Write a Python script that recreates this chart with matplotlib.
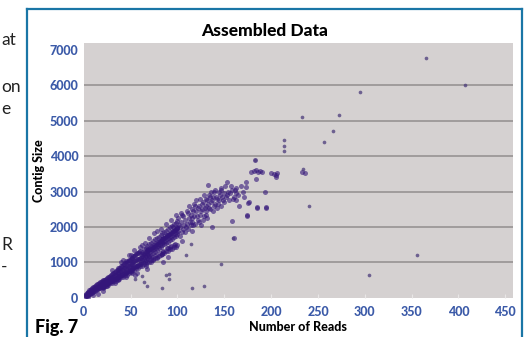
import matplotlib
matplotlib.use("Agg")
import matplotlib.pyplot as plt
from matplotlib.lines import Line2D

# main band of contigs (reads, contig size)
reads = [
    1, 1, 2, 2, 3, 3, 3, 4, 4, 4, 5, 5, 5, 6, 6, 6, 7, 7, 7, 8, 8, 8, 9, 9, 9,
    10, 10, 10, 11, 11, 11, 12, 12, 12, 13, 13, 13, 14, 14, 14, 15, 15, 15,
    16, 16, 16, 17, 17, 17, 18, 18, 18, 19, 19, 19, 20, 20, 20,
    5, 10, 20, 15,
    21, 21, 21, 22, 22, 22, 23, 23, 23, 24, 24, 24, 25, 25, 25, 26, 26, 26,
    27, 27, 27, 28, 28, 28, 29, 29, 29, 30, 30, 30, 31, 31, 31, 32, 32, 32,
    33, 33, 33, 34, 34, 34, 35, 35, 35, 36, 36, 36, 37, 37, 37, 38, 38, 38,
    39, 39, 39, 40, 40, 40, 41, 41, 41, 42, 42, 42, 43, 43, 43, 44, 44, 44,
    45, 45, 45, 46, 46, 46, 47, 47, 47, 48, 48, 48, 49, 49, 49, 50, 50, 50,
    51, 51, 51, 52, 52, 52, 53, 53, 53, 54, 54, 54, 55, 55, 55, 56, 56, 56,
    57, 57, 57, 58, 58, 58, 59, 59, 59, 60, 60, 60,
    61, 61, 62, 62, 63, 63, 64, 64, 65, 65, 66, 66, 67, 67, 68, 68, 69, 69,
    70, 70, 71, 71, 72, 72, 73, 73, 74, 74, 75, 75, 76, 76, 77, 77, 78, 78,
    79, 79, 80, 80, 81, 81, 82, 82, 83, 83, 84, 84, 85, 85, 86, 86, 87, 87,
    88, 88, 89, 89, 90, 90, 91, 91, 92, 92, 93, 93, 94, 94, 95, 95, 96, 96,
    97, 97, 98, 98, 99, 99, 100, 100,
    61, 62, 63, 64, 65, 66, 67, 68, 69, 70, 71, 72, 73, 74, 75, 76, 77, 78,
    79, 80, 81, 82, 83, 84, 85, 86, 87, 88, 89, 90, 91, 92, 93, 94, 95, 96,
    97, 98, 99, 100,
    62, 66, 70, 72, 75, 78, 82, 85, 88, 90, 93, 96, 98, 65, 68, 74, 84, 92,
    57, 54, 48, 45, 40, 36, 42, 52, 30, 25, 33,
    101, 101, 103, 103, 104, 104, 106, 106, 107, 108, 108, 110, 110, 111,
    112, 112, 114, 114, 115, 116, 116, 118, 118, 119, 120, 120, 122, 122,
    124, 124, 125, 126, 126, 128, 128, 130, 130, 132, 132, 133, 134, 134,
    136, 136, 137, 138, 138, 140, 140, 142, 142, 144, 144, 146, 146, 148,
    150, 150, 153, 153, 155, 158, 158, 160, 160, 163, 163, 163, 166, 170,
    173, 173, 174, 174, 175, 176, 178, 182, 184, 184, 185, 185, 186, 188,
    190, 194, 195, 195, 200, 203, 206, 183, 205, 205, 233, 236,
    102, 105, 105, 109, 111, 113, 115, 117, 117, 119, 121, 123, 123, 125,
    127, 127, 129, 131, 131, 133, 135, 135, 137, 139, 139, 141, 143, 145,
    147, 149, 151, 152, 154, 156, 157, 159, 161, 165, 168, 171,
    85, 90, 95, 105, 78, 70, 60, 50, 55, 45,
    20, 22, 24, 26, 28, 30, 32, 34, 36, 38, 40, 42, 44, 46, 48, 50, 52, 54,
    56, 58, 60, 62, 64, 66, 68, 70, 72, 74, 76, 78, 80, 82, 84, 86, 88, 90,
    92, 94, 96, 98, 100,
    21, 25, 29, 33, 37, 41, 45, 49, 53, 57, 61, 65, 69, 73, 77, 81, 85, 89,
    93, 97,
]
size = [
    40, 90, 60, 120, 50, 80, 140, 70, 110, 160, 90, 130, 180, 100, 150, 210,
    120, 170, 230, 140, 190, 250, 150, 210, 270, 160, 230, 300, 190, 250, 320,
    200, 270, 340, 220, 290, 360, 240, 300, 380, 250, 320, 400, 270, 340, 420,
    290, 360, 440, 300, 380, 460, 320, 400, 480, 330, 410, 500,
    30, 80, 200, 120,
    340, 410, 460, 350, 420, 500, 380, 440, 510, 390, 460, 540, 400, 490, 560,
    430, 500, 590, 440, 530, 600, 460, 540, 630, 470, 550, 640, 490, 580, 670,
    500, 590, 690, 520, 600, 710, 530, 640, 720, 540, 650, 760, 570, 660, 780,
    580, 700, 790, 590, 710, 830, 620, 720, 840, 630, 750, 850, 640, 760, 890,
    650, 790, 900, 680, 800, 920, 690, 830, 950, 700, 840, 980, 720, 850, 990,
    730, 880, 1010, 760, 890, 1030, 770, 900, 1070, 780, 930, 1080, 800, 950, 1100,
    810, 970, 1130, 840, 990, 1140, 850, 1000, 1170, 860, 1040, 1190, 890, 1040, 1220,
    900, 1070, 1230, 910, 1090, 1270, 940, 1100, 1280, 950, 1110, 1300, 960, 1140, 1330,
    1000, 1230, 1080, 1300, 1020, 1250, 1110, 1380, 1150, 1290, 1060, 1420,
    1200, 1340, 1130, 1470, 1250, 1380, 1180, 1520, 1290, 1410, 1220, 1560,
    1340, 1470, 1260, 1600, 1380, 1500, 1300, 1650, 1420, 1540, 1350, 1690,
    1460, 1580, 1400, 1730, 1500, 1620, 1430, 1770, 1540, 1660, 1480, 1820,
    1580, 1700, 1510, 1860, 1620, 1740, 1560, 1900, 1660, 1780, 1590, 1950,
    1700, 1810, 1640, 1990, 1730, 1850, 1670, 2030, 1770, 1890, 1720, 2080,
    1810, 1930, 1750, 2120, 1850, 1970, 1790, 2160,
    1120, 1180, 1150, 1240, 1220, 1270, 1260, 1310, 1330, 1350, 1370, 1390,
    1400, 1440, 1450, 1470, 1500, 1520, 1530, 1570, 1580, 1600, 1620, 1650,
    1660, 1690, 1700, 1720, 1750, 1770, 1780, 1810, 1830, 1840, 1880, 1900,
    1910, 1940, 1960, 1990,
    1480, 900, 1700, 1000, 1820, 1150, 1950, 1300, 2100, 1400, 2200, 1500, 2350,
    1550, 820, 1100, 1250, 1450,
    700, 1350, 1200, 600, 1000, 500, 1080, 700, 800, 350, 420,
    1900, 2250, 2000, 1750, 2150, 2400, 1950, 2300, 2050, 2200, 1850, 2100,
    2450, 1950, 2250, 2600, 2050, 2350, 2500, 2150, 1900, 2300, 2650, 2100,
    2450, 2750, 2200, 2550, 2350, 2800, 2050, 2500, 2650, 2300, 2900, 2600,
    2450, 2750, 2250, 3180, 2550, 2900, 2700, 3000, 1990, 2450, 2850, 2650,
    3050, 2800, 2550, 2990, 2750, 2600, 3100, 2850, 2950, 2700, 3270, 2900,
    2750, 2160, 3050, 1700, 2850, 3100, 2950, 2750, 2600, 3000, 3270, 3130,
    2330, 2300, 2670, 2700, 3550, 3580, 3350, 3600, 2530, 2560, 3560, 3570,
    3550, 2990, 2530, 2560, 3520, 3500, 3530, 3890, 3470, 3400, 3550, 3520,
    2050, 2350, 1850, 2000, 2400, 2150, 2250, 2450, 2050, 2600, 2300, 2150,
    2600, 2450, 2700, 2200, 2550, 2800, 2350, 2650, 2500, 2850, 2750, 2600,
    3000, 2850, 2650, 2900, 3050, 2750, 3150, 2850, 3000, 2950, 3150, 2800,
    3050, 2900, 3150, 2850,
    1000, 1150, 2000, 1600, 1900, 1150, 1450, 1200, 650, 1050,
    270, 300, 350, 360, 410, 420, 470, 480, 530, 540, 590, 600, 650, 660,
    710, 720, 770, 780, 830, 840, 890, 900, 950, 960, 1010, 1020, 1070, 1080,
    1130, 1140, 1190, 1200, 1250, 1260, 1310, 1320, 1370, 1380, 1430, 1440,
    1500,
    320, 400, 470, 530, 590, 650, 710, 780, 830, 900, 960, 1020, 1090, 1150,
    1200, 1280, 1330, 1400, 1460, 1520,
]

# stray contigs away from the band
out_reads = [365, 407, 295, 233, 273, 266, 256, 214, 214, 214, 183, 234, 240,
             305, 356, 147, 128, 115, 114, 109, 159, 62, 91, 91, 83, 55, 64, 68, 88]
out_size = [6780, 6000, 5800, 5100, 5150, 4700, 4400, 4450, 4300, 4150, 3890,
            3640, 2580, 650, 1220, 960, 340, 270, 1510, 1220, 1700, 620, 680,
            540, 280, 540, 450, 350, 650]

x_ticks = [0, 50, 100, 150, 200, 250, 300, 350, 400, 450]
y_ticks = [0, 1000, 2000, 3000, 4000, 5000, 6000, 7000]

fig = plt.figure(figsize=(5.27, 3.37), dpi=100)
ax = fig.add_axes([0.159, 0.116, 0.814, 0.757])
ax.set_facecolor("#d5d1d1")

ax.scatter(reads, size, s=13, color="#34167a", alpha=0.6, linewidths=0, zorder=3)
ax.scatter(out_reads, out_size, s=7, color="#4a3a7a", alpha=0.75, linewidths=0, zorder=3)

ax.set_xlim(0, 458)
ax.set_ylim(0, 7200)
ax.set_xticks(x_ticks)
ax.set_yticks(y_ticks)
for y in y_ticks[1:-1]:
    ax.axhline(y, color="#9c9898", lw=1.3, zorder=1)

for s in ax.spines.values():
    s.set_visible(False)
ax.tick_params(axis="x", direction="in", length=3, color="#e8e6e6", pad=6)
ax.tick_params(axis="y", length=0, pad=4)
for lab in ax.get_xticklabels() + ax.get_yticklabels():
    lab.set_fontfamily("Lato")
    lab.set_fontweight("black")
    lab.set_fontsize(9)
    lab.set_color("#3b5aa8")

fig.text(265 / 527, 1 - 31 / 337, "Assembled Data", fontfamily="Lato",
         fontweight="black", fontsize=12.5, ha="center", va="center")
ax.set_xlabel("Number of Reads", fontfamily="Lato", fontweight="black",
              fontsize=9, labelpad=2)
ax.set_ylabel("Contig Size", fontfamily="Lato", fontweight="black",
              fontsize=9, labelpad=3)

# blue frame around the figure panel
fc = "#1a76a6"
fig.add_artist(Line2D([27 / 527, 27 / 527], [0, 1 - 9 / 337], color=fc, lw=1.6))
fig.add_artist(Line2D([522 / 527, 522 / 527], [0, 1 - 9 / 337], color=fc, lw=1.6))
fig.add_artist(Line2D([27 / 527, 522 / 527], [1 - 9 / 337, 1 - 9 / 337], color=fc, lw=1.6))

fig.text(35 / 527, 1 - 333 / 337, "Fig. 7", fontfamily="Lato", fontweight="black",
         fontsize=13, va="baseline")

# cut-off words of the page text beside the figure
for txt, py in [("at", 45), ("on", 92), ("e", 114), ("R", 250), ("-", 272)]:
    fig.text(1 / 527, 1 - py / 337, txt, fontfamily="Lato", fontsize=12.5,
             va="baseline", color="#222222")

fig.savefig("out.png", dpi=100)
